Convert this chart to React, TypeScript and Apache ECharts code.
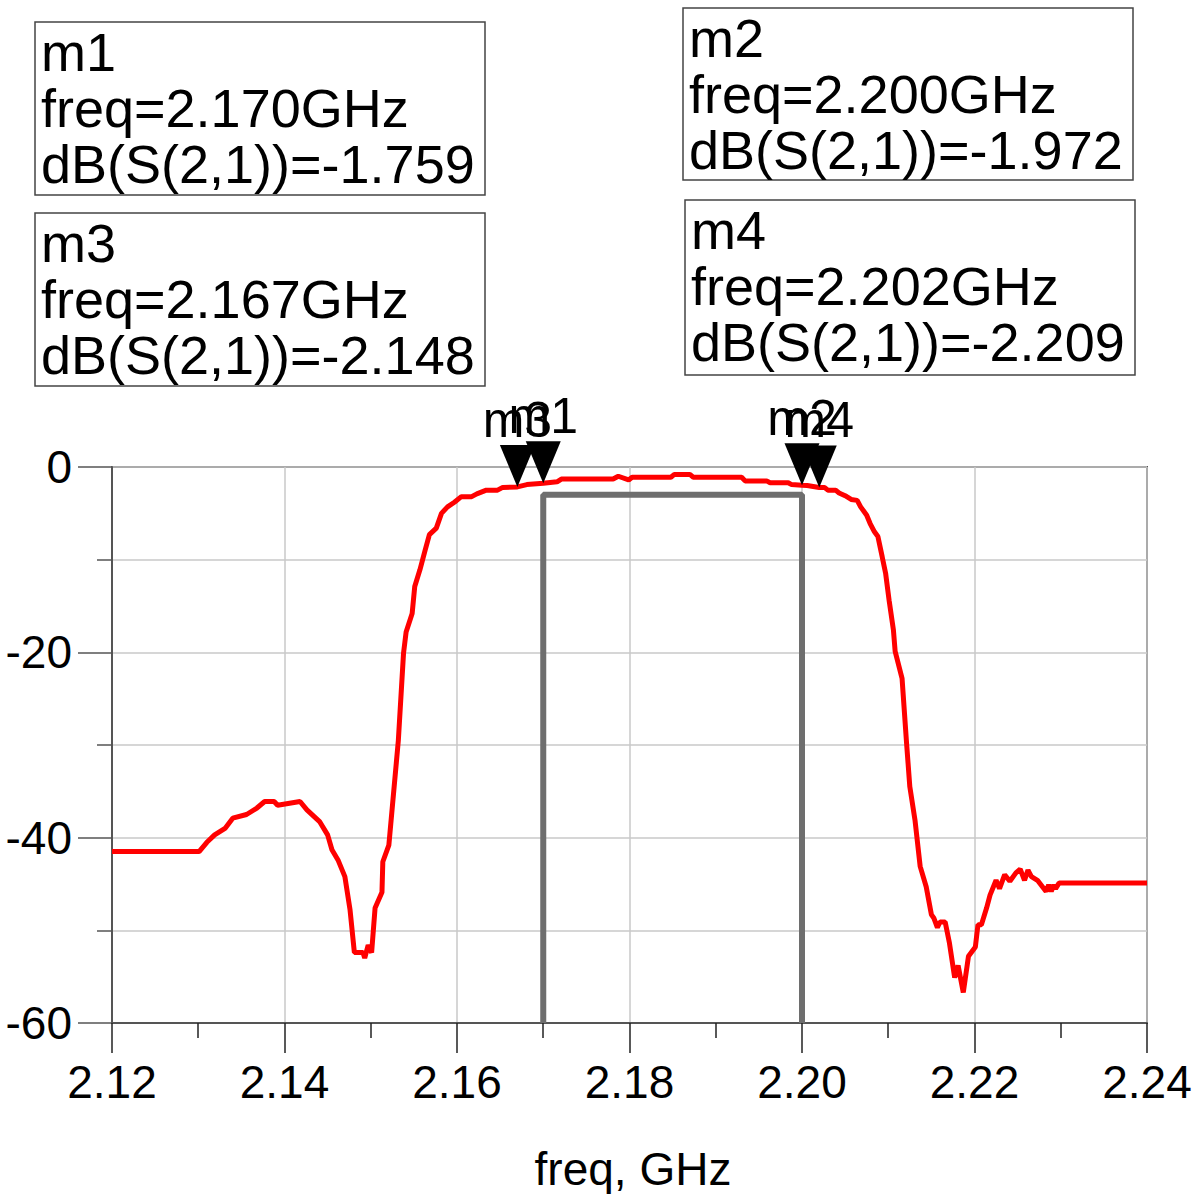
import React, { useEffect, useRef } from "react";
import * as echarts from "echarts";

const freqGHz = [
  2.12, 2.1301, 2.131, 2.1319, 2.1331, 2.134, 2.1356, 2.1368, 2.1377, 2.1388, 2.1392, 2.1418,
  2.1426, 2.1441, 2.145, 2.1455, 2.1462, 2.147, 2.1476, 2.1481, 2.1491, 2.1493, 2.1497, 2.1501,
  2.1505, 2.1513, 2.1514, 2.1521, 2.1532, 2.1538, 2.1541, 2.1548, 2.1551, 2.1557, 2.1563, 2.1568,
  2.1576, 2.1582, 2.1589, 2.1597, 2.1605, 2.1617, 2.1623, 2.1634, 2.1647, 2.1653, 2.167, 2.1681,
  2.17, 2.1716, 2.1721, 2.1781, 2.1787, 2.1799, 2.1803, 2.1848, 2.1852, 2.187, 2.1874, 2.193,
  2.1934, 2.1959, 2.1963, 2.1984, 2.1988, 2.2, 2.2006, 2.202, 2.2026, 2.203, 2.2039, 2.2043,
  2.205, 2.2057, 2.2064, 2.2068, 2.2075, 2.2079, 2.2084, 2.2088, 2.2093, 2.2097, 2.2101, 2.2106,
  2.2108, 2.2116, 2.2121, 2.2125, 2.2131, 2.2137, 2.2144, 2.215, 2.2153, 2.2157, 2.216, 2.2166,
  2.2171, 2.2177, 2.2181, 2.2187, 2.2193, 2.2201, 2.2204, 2.2208, 2.2214, 2.2218, 2.2225, 2.2229,
  2.2235, 2.2241, 2.2248, 2.2253, 2.2258, 2.2262, 2.2266, 2.2273, 2.2283, 2.2286, 2.2289, 2.2292,
  2.2294, 2.2298, 2.24,
];
const s21dB = [
  -41.5, -41.5, -40.5, -39.7, -39.0, -37.9, -37.5, -36.8, -36.1, -36.1, -36.5, -36.1,
  -37.0, -38.3, -39.7, -41.3, -42.4, -44.2, -47.8, -52.4, -52.4, -53.0, -51.6, -52.4,
  -47.6, -45.9, -42.6, -40.8, -29.5, -20.1, -17.8, -15.8, -12.9, -11.1, -9.0, -7.3,
  -6.6, -5.0, -4.3, -3.8, -3.2, -3.2, -2.9, -2.5, -2.5, -2.2, -2.148, -1.9,
  -1.759, -1.6, -1.3, -1.3, -1.0, -1.4, -1.1, -1.1, -0.8, -0.8, -1.1, -1.1,
  -1.5, -1.5, -1.7, -1.7, -1.9, -1.972, -2.0, -2.209, -2.2, -2.5, -2.5, -2.8,
  -3.1, -3.5, -3.6, -4.3, -5.2, -6.1, -7.0, -7.5, -9.7, -11.5, -14.4, -17.6,
  -19.9, -22.8, -29.5, -34.5, -38.1, -43.1, -45.3, -48.3, -48.7, -49.7, -49.1, -49.1,
  -51.4, -55.1, -53.8, -56.7, -52.8, -51.8, -49.4, -49.4, -47.6, -46.2, -44.6, -45.5,
  -44.0, -44.7, -43.8, -43.4, -44.6, -43.5, -44.2, -44.6, -45.8, -45.1, -45.8, -45.1,
  -45.5, -44.9, -44.9,
];

const maskFreq = [2.17, 2.17, 2.2, 2.2];
const maskDb = [-60, -3, -3, -60];

const markerNames = ["m3", "m1", "m2", "m4"];
const markerFreq = [2.167, 2.17, 2.2, 2.202];
const markerDb = [-2.148, -1.759, -1.972, -2.209];

const xTicks = ["2.12", "2.14", "2.16", "2.18", "2.20", "2.22", "2.24"];
const yTicks = [0, -20, -40, -60];
const xAxisTitle = "freq, GHz";

// readout boxes: name, freq, value
const boxNames = ["m1", "m2", "m3", "m4"];
const boxFreq = ["2.170", "2.200", "2.167", "2.202"];
const boxVal = ["-1.759", "-1.972", "-2.148", "-2.209"];

const FONT = "'Liberation Sans', Arial, Helvetica, sans-serif";

export default function App() {
  const ref = useRef<HTMLDivElement>(null);
  useEffect(() => {
    document.body.style.margin = "0";
    const chart = echarts.init(ref.current!, null, { renderer: "svg" });
    const boxPos = [
      { x: 35, y: 22, w: 450, h: 173 },
      { x: 683, y: 8, w: 450, h: 172 },
      { x: 35, y: 213, w: 450, h: 173 },
      { x: 685, y: 200, w: 450, h: 175 },
    ];
    const graphics: any[] = boxNames.map((n, i) => ({
      type: "group",
      x: boxPos[i].x,
      y: boxPos[i].y,
      children: [
        {
          type: "rect",
          shape: { x: 0, y: 0, width: boxPos[i].w, height: boxPos[i].h },
          style: { fill: "#fff", stroke: "#444", lineWidth: 1.5 },
        },
        {
          type: "text",
          x: 6,
          y: 2,
          style: {
            text: `${n}\nfreq=${boxFreq[i]}GHz\ndB(S(2,1))=${boxVal[i]}`,
            fontSize: 54,
            fontFamily: FONT,
            lineHeight: 56,
            fill: "#000",
            verticalAlign: "top",
            align: "left",
          },
        },
      ],
    }));
    graphics.push({
      type: "text",
      x: 633,
      y: 1169,
      style: {
        text: xAxisTitle,
        fontSize: 46,
        fontFamily: FONT,
        fill: "#000",
        align: "center",
        verticalAlign: "middle",
      },
    });
    chart.setOption({
      animation: false,
      backgroundColor: "#fff",
      textStyle: { fontFamily: FONT },
      grid: {
        left: 112,
        right: 52,
        top: 467,
        bottom: 171,
        show: true,
        borderColor: "#555",
        borderWidth: 2,
        containLabel: false,
        outerBoundsMode: "none",
      },
      xAxis: {
        type: "value",
        min: 2.12,
        max: 2.24,
        interval: 0.02,
        axisLine: { show: true, onZero: false, lineStyle: { color: "#555", width: 2 } },
        axisTick: { show: true, length: 30, lineStyle: { color: "#222", width: 1.5 } },
        minorTick: { show: true, splitNumber: 2, length: 15, lineStyle: { color: "#222", width: 1.5 } },
        minorSplitLine: { show: false },
        splitLine: { show: true, lineStyle: { color: "#c8c8c8", width: 1.5 } },
        axisLabel: {
          fontSize: 46,
          color: "#000",
          margin: 36,
          formatter: (v: number) => {
            const s = v.toFixed(2);
            return xTicks.includes(s) ? s : "";
          },
        },
      },
      yAxis: {
        type: "value",
        min: -60,
        max: 0,
        interval: 20,
        axisLine: { show: true, onZero: false, lineStyle: { color: "#555", width: 2 } },
        axisTick: { show: true, length: 34, lineStyle: { color: "#555", width: 1.5 } },
        minorTick: { show: true, splitNumber: 2, length: 15, lineStyle: { color: "#555", width: 1.5 } },
        minorSplitLine: { show: true, lineStyle: { color: "#c8c8c8", width: 1.5 } },
        splitLine: { show: true, lineStyle: { color: "#c8c8c8", width: 1.5 } },
        axisLabel: {
          fontSize: 46,
          color: "#000",
          margin: 40,
          formatter: (v: number) => (yTicks.includes(Math.round(v)) ? String(Math.round(v)) : ""),
        },
      },
      series: [
        {
          type: "line",
          data: maskFreq.map((f, i) => [f, maskDb[i]]),
          showSymbol: false,
          lineStyle: { color: "#6e6e6e", width: 6 },
          z: 2,
        },
        {
          type: "line",
          data: freqGHz.map((f, i) => [f, s21dB[i]]),
          showSymbol: false,
          lineStyle: { color: "#ff0000", width: 5 },
          z: 3,
        },
        {
          type: "scatter",
          clip: false,
          data: markerNames.map((n, i) => ({ name: n, value: [markerFreq[i], markerDb[i]] })),
          symbol: "path://M0,0 L36,0 L18,42 Z",
          symbolSize: [35, 42],
          symbolOffset: [0, -21],
          itemStyle: { color: "#000", opacity: 1 },
          label: {
            show: true,
            position: "top",
            distance: 0,
            formatter: "{b}",
            fontSize: 50,
            color: "#000",
            opacity: 1,
            fontFamily: FONT,
          },
          z: 5,
        },
      ],
      graphic: graphics,
    });
    return () => chart.dispose();
  }, []);
  return <div ref={ref} style={{ width: 1199, height: 1194 }} />;
}
